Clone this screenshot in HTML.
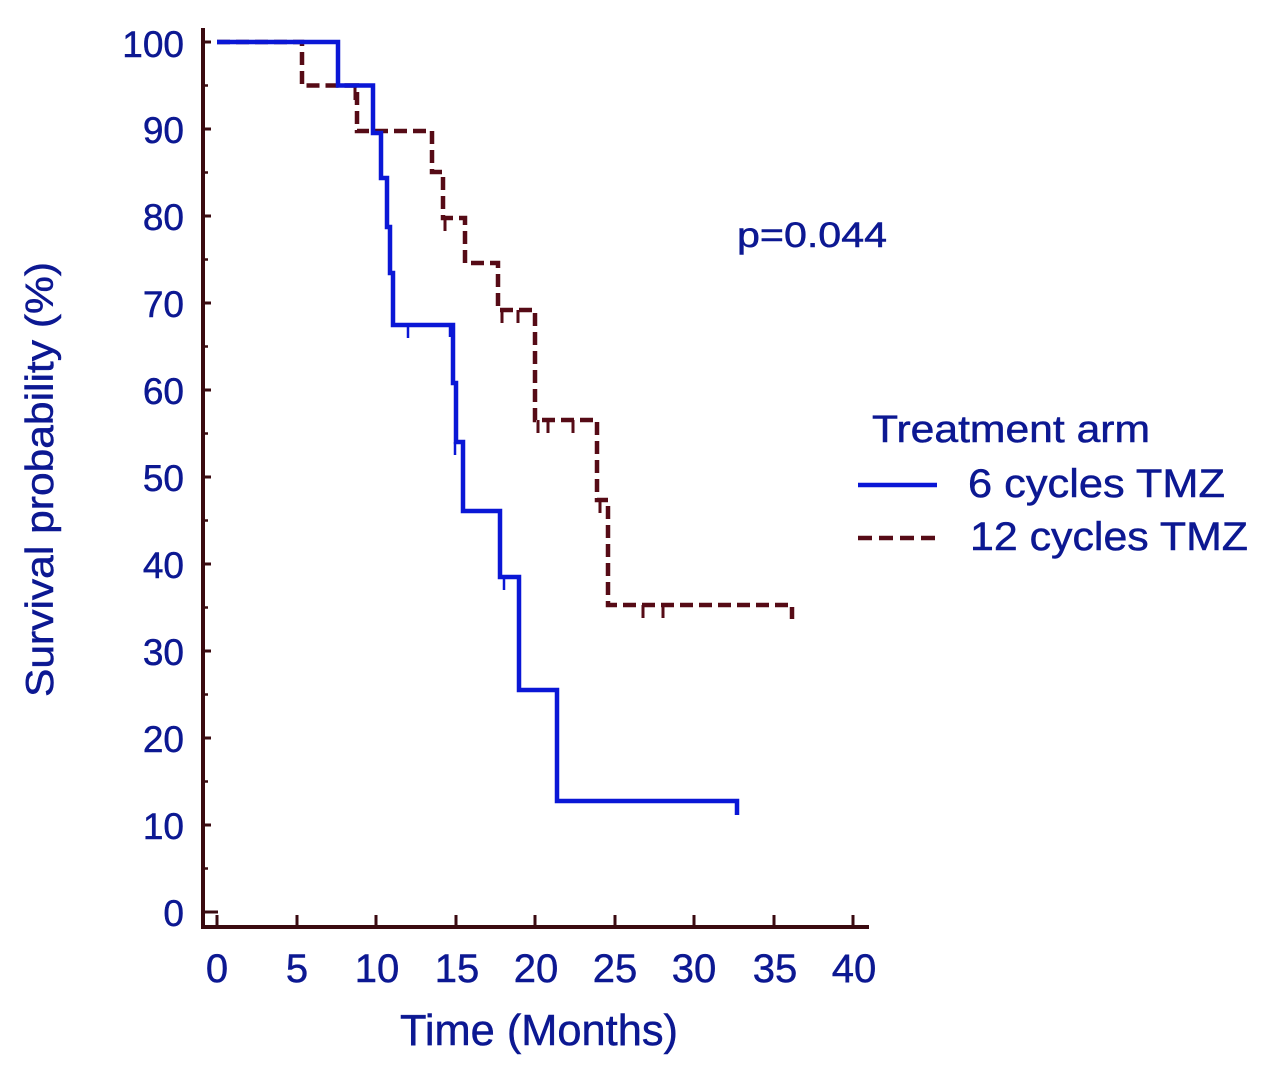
<!DOCTYPE html>
<html>
<head>
<meta charset="utf-8">
<style>
  html,body{margin:0;padding:0;background:#fff;}
  svg{display:block;}
  text{font-family:"Liberation Sans", Arial, sans-serif; fill:#0c1892; stroke:#0c1892; stroke-width:0.5px;}
</style>
</head>
<body>
<svg width="1288" height="1069" viewBox="0 0 1288 1069" xmlns="http://www.w3.org/2000/svg">
  <rect width="1288" height="1069" fill="#fff"/>

  <!-- axes -->
  <g stroke="#3a0a10" stroke-linecap="butt" fill="none">
    <line x1="203" y1="28" x2="203" y2="929" stroke-width="4"/>
    <line x1="201" y1="927" x2="869" y2="927" stroke-width="4"/>
    <!-- x ticks -->
    <g stroke-width="3">
      <line x1="217" y1="915" x2="217" y2="927"/>
      <line x1="297" y1="915" x2="297" y2="927"/>
      <line x1="376" y1="915" x2="376" y2="927"/>
      <line x1="456" y1="915" x2="456" y2="927"/>
      <line x1="535" y1="915" x2="535" y2="927"/>
      <line x1="615" y1="915" x2="615" y2="927"/>
      <line x1="694" y1="915" x2="694" y2="927"/>
      <line x1="774" y1="915" x2="774" y2="927"/>
      <line x1="853" y1="915" x2="853" y2="927"/>
    </g>
    <!-- y major ticks -->
    <g stroke-width="3">
      <line x1="203" y1="42" x2="211" y2="42"/>
      <line x1="203" y1="129" x2="211" y2="129"/>
      <line x1="203" y1="216" x2="211" y2="216"/>
      <line x1="203" y1="303" x2="211" y2="303"/>
      <line x1="203" y1="390" x2="211" y2="390"/>
      <line x1="203" y1="477" x2="211" y2="477"/>
      <line x1="203" y1="564" x2="211" y2="564"/>
      <line x1="203" y1="651" x2="211" y2="651"/>
      <line x1="203" y1="738" x2="211" y2="738"/>
      <line x1="203" y1="825" x2="211" y2="825"/>
      <line x1="203" y1="912" x2="218" y2="912"/>
    </g>
    <!-- y minor ticks -->
    <g stroke-width="2.5">
      <line x1="203" y1="85.5" x2="208" y2="85.5"/>
      <line x1="203" y1="172.5" x2="208" y2="172.5"/>
      <line x1="203" y1="259.5" x2="208" y2="259.5"/>
      <line x1="203" y1="346.5" x2="208" y2="346.5"/>
      <line x1="203" y1="433.5" x2="208" y2="433.5"/>
      <line x1="203" y1="520.5" x2="208" y2="520.5"/>
      <line x1="203" y1="607.5" x2="208" y2="607.5"/>
      <line x1="203" y1="694.5" x2="208" y2="694.5"/>
      <line x1="203" y1="781.5" x2="208" y2="781.5"/>
      <line x1="203" y1="868.5" x2="208" y2="868.5"/>
    </g>
  </g>

  <!-- y tick labels -->
  <g font-size="37" text-anchor="end">
    <text x="184" y="57">100</text>
    <text x="184" y="143">90</text>
    <text x="184" y="230">80</text>
    <text x="184" y="317">70</text>
    <text x="184" y="404">60</text>
    <text x="184" y="491">50</text>
    <text x="184" y="578">40</text>
    <text x="184" y="665">30</text>
    <text x="184" y="752">20</text>
    <text x="184" y="839">10</text>
    <text x="184" y="926">0</text>
  </g>

  <!-- x tick labels -->
  <g font-size="40" text-anchor="middle">
    <text x="217" y="982">0</text>
    <text x="297" y="982">5</text>
    <text x="377" y="982">10</text>
    <text x="457" y="982">15</text>
    <text x="536" y="982">20</text>
    <text x="615" y="982">25</text>
    <text x="694" y="982">30</text>
    <text x="775" y="982">35</text>
    <text x="854" y="982">40</text>
  </g>

  <!-- axis titles -->
  <text x="400" y="1045" font-size="44" textLength="278" lengthAdjust="spacingAndGlyphs">Time (Months)</text>
  <text transform="translate(53,697) rotate(-90)" x="0" y="0" font-size="39" textLength="435" lengthAdjust="spacingAndGlyphs">Survival probability (%)</text>

  <!-- 12 cycles (dashed maroon) -->
  <g stroke="#560b16" stroke-width="4.5" fill="none">
    <path d="M217,42 H302 V85.5 H357 V131 H432 V172 H443 V218 H465 V263 H498 V310 H535 V420 H597 V500 H608 V605 H792 V619" stroke-dasharray="13 6"/>
    <g stroke-width="3">
      <line x1="355" y1="86" x2="355" y2="100"/>
      <line x1="445" y1="218" x2="445" y2="231"/>
      <line x1="502" y1="310" x2="502" y2="323"/>
      <line x1="518" y1="310" x2="518" y2="323"/>
      <line x1="538" y1="420" x2="538" y2="433"/>
      <line x1="548" y1="420" x2="548" y2="433"/>
      <line x1="573" y1="420" x2="573" y2="433"/>
      <line x1="600" y1="500" x2="600" y2="513"/>
      <line x1="643" y1="605" x2="643" y2="618"/>
      <line x1="663" y1="605" x2="663" y2="618"/>
    </g>
  </g>

  <!-- 6 cycles (solid blue) -->
  <g stroke="#0a17d6" stroke-width="4.5" fill="none">
    <path d="M217,42 H338 V85.5 H373 V133 H381 V178 H387 V227 H390 V273 H393 V325 H453 V383 H456 V442 H463 V511 H500 V577 H519 V690 H557 V801 H737 V815"/>
    <g stroke-width="2.5">
      <line x1="408" y1="325" x2="408" y2="338"/>
      <line x1="450" y1="325" x2="450" y2="337"/>
      <line x1="455" y1="442" x2="455" y2="455"/>
      <line x1="504" y1="577" x2="504" y2="590"/>
    </g>
  </g>

  <!-- p value -->
  <text x="737" y="247" font-size="35" textLength="150" lengthAdjust="spacingAndGlyphs">p=0.044</text>

  <!-- legend -->
  <text x="872" y="442" font-size="38" textLength="278" lengthAdjust="spacingAndGlyphs">Treatment arm</text>
  <line x1="858" y1="485" x2="937" y2="485" stroke="#0a17d6" stroke-width="4.5"/>
  <text x="968" y="497" font-size="40" textLength="257" lengthAdjust="spacingAndGlyphs">6 cycles TMZ</text>
  <line x1="858" y1="538" x2="937" y2="538" stroke="#560b16" stroke-width="4.5" stroke-dasharray="14 7"/>
  <text x="970" y="550" font-size="40" textLength="278" lengthAdjust="spacingAndGlyphs">12 cycles TMZ</text>
</svg>
</body>
</html>
